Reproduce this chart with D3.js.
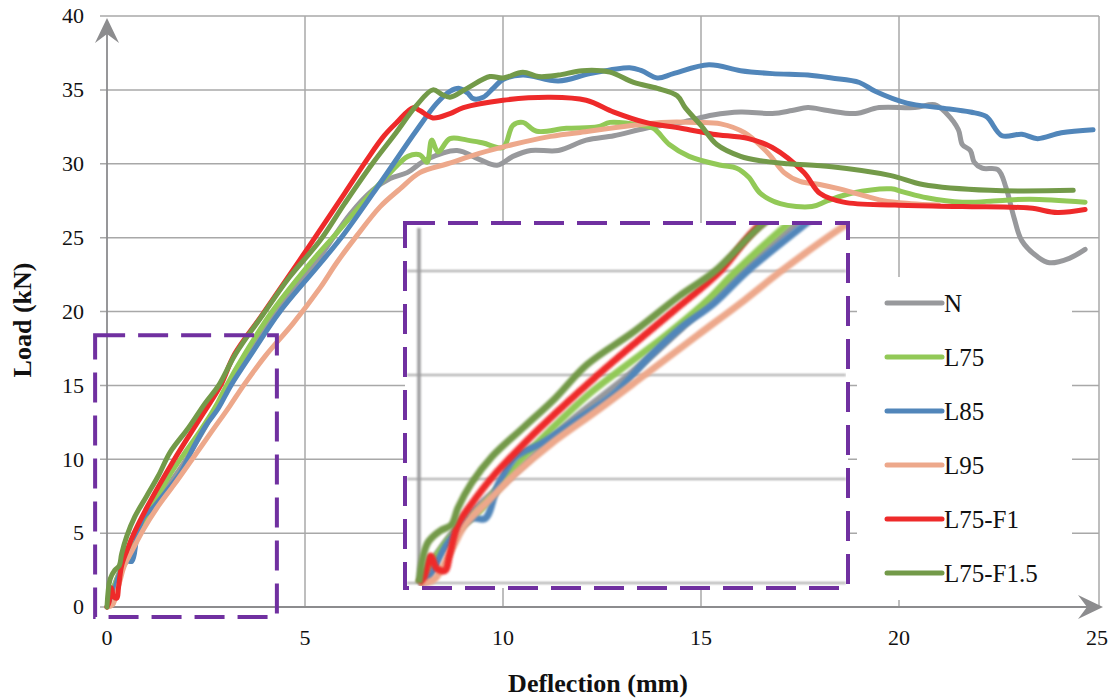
<!DOCTYPE html>
<html>
<head>
<meta charset="utf-8">
<script src="https://cdn.jsdelivr.net/npm/d3@7/dist/d3.min.js"></script>
<style>
  body { margin: 0; background: #fff; }
  svg { font-family: "Liberation Serif", "Times New Roman", serif; }
  text { fill: #111; }
  .tick { font-size: 22px; }
  .title { font-size: 26px; font-weight: bold; }
  .legText { font-size: 25px; }
</style>
</head>
<body>
<div id="main-svg"></div>
<script>
// load–deflection curves, values (mm, kN)
var seriesNames = ["N", "L75", "L85", "L95", "L75-F1", "L75-F1.5"];

var N_pts = [[0,0],[0.15,1.2],[0.4,2.9],[0.85,5.0],[1.4,7.6],[2.0,10.0],[2.55,12.5],[3.07,15.0],[3.6,17.3],
  [4.27,20.0],[5.35,23.6],[6.14,26.6],[6.7,28.2],[7.15,29.0],[7.58,29.4],[8.08,30.3],[8.84,30.9],[9.4,30.3],[9.85,29.9],
  [10.25,30.5],[10.7,30.9],[11.4,30.9],[12.1,31.6],[12.8,31.9],[13.6,32.4],[14.5,32.8],[15.3,33.3],[16.0,33.5],
  [16.8,33.4],[17.3,33.6],[17.7,33.8],[18.2,33.6],[18.9,33.4],[19.5,33.8],[20.4,33.8],[20.9,34.0],[21.2,33.4],
  [21.5,32.3],[21.6,31.3],[21.8,30.9],[21.9,30.1],[22.1,29.7],[22.5,29.6],[22.7,28.4],[22.9,26.4],[23.1,24.8],
  [23.5,23.7],[23.8,23.3],[24.3,23.6],[24.7,24.2]];

var L75_pts = [[0,0],[0.1,0.8],[0.3,2.2],[0.6,3.6],[0.93,5.7],[1.26,7.4],[1.6,9.0],[1.93,10.3],[2.35,11.9],
  [2.75,13.6],[3.0,14.9],[3.52,17.3],[4.17,20.0],[5.3,23.8],[5.7,25.0],[6.8,28.4],[7.15,29.4],[7.6,30.5],
  [7.9,30.6],[8.08,30.1],[8.2,31.6],[8.36,30.8],[8.66,31.7],[9.1,31.6],[9.5,31.4],[10.0,31.1],[10.25,32.6],
  [10.5,32.8],[10.85,32.2],[11.6,32.4],[12.4,32.5],[12.7,32.8],[13.5,32.6],[13.8,32.4],[14.2,31.3],[14.7,30.5],
  [15.5,29.9],[15.9,29.7],[16.2,29.1],[16.5,28.0],[17.0,27.3],[17.8,27.1],[18.2,27.5],[18.8,28.0],[19.8,28.3],
  [20.1,28.1],[20.7,27.7],[21.6,27.4],[22.5,27.5],[23.3,27.6],[24.7,27.4]];

var L85_pts = [[0,0],[0.08,0.15],[0.27,1.9],[0.5,3.1],[0.63,3.1],[0.76,4.8],[0.93,6.1],[1.16,6.7],[1.46,7.7],
  [1.86,9.1],[2.2,10.9],[2.5,12.3],[2.8,13.4],[3.13,15.0],[3.69,17.3],[4.37,20.0],[5.4,23.3],[6.0,25.3],
  [6.9,28.7],[7.8,32.2],[8.33,34.1],[8.66,34.9],[8.9,35.1],[9.1,34.8],[9.25,34.4],[9.5,34.5],[9.75,35.1],
  [10.0,35.7],[10.5,36.0],[11.4,35.6],[12.2,36.1],[13.2,36.5],[13.5,36.3],[13.9,35.8],[14.3,36.1],[15.2,36.7],
  [16.0,36.3],[16.8,36.1],[17.7,36.0],[18.3,35.8],[19.0,35.5],[19.4,34.9],[20.2,34.1],[21.0,33.8],[21.8,33.5],
  [22.2,33.2],[22.6,31.9],[23.1,32.0],[23.5,31.7],[24.1,32.1],[24.9,32.3]];

var L95_pts = [[0,0],[0.14,0.15],[0.31,1.6],[0.44,2.8],[0.67,4.0],[0.93,5.3],[1.26,6.7],[1.7,8.3],[2.15,10.0],
  [2.65,11.9],[3.1,13.6],[3.45,15.0],[4.0,17.0],[4.7,19.2],[5.38,21.6],[5.8,23.3],[6.3,25.1],[6.9,27.1],
  [7.4,28.3],[7.9,29.4],[8.6,30.0],[9.4,30.7],[10.25,31.3],[11.1,31.8],[11.9,32.1],[13.0,32.5],[14.0,32.8],
  [14.9,32.8],[15.5,32.7],[16.1,32.1],[16.7,30.7],[17.1,29.4],[17.5,28.8],[18.0,28.6],[18.5,28.3],[18.9,28.0],
  [19.6,27.5],[20.3,27.3],[21.0,27.2]];

var L75F1_pts = [[0,0],[0.05,0.3],[0.11,1.3],[0.17,0.7],[0.25,0.6],[0.29,1.3],[0.37,2.8],[0.5,3.8],[0.7,5.1],
  [1.0,6.7],[1.33,8.3],[1.68,9.9],[2.05,11.5],[2.43,13.1],[2.87,15.0],[3.22,17.1],[3.9,19.7],[4.87,23.5],
  [5.25,25.0],[6.0,28.0],[6.57,30.3],[7.0,31.9],[7.32,32.8],[7.73,33.8],[7.9,33.6],[8.23,33.1],[8.66,33.4],
  [9.0,33.8],[10.0,34.3],[11.2,34.5],[12.1,34.3],[12.8,33.5],[13.6,32.8],[14.5,32.4],[15.3,32.0],[16.2,31.7],
  [16.8,31.1],[17.6,29.4],[18.0,28.0],[18.6,27.4],[19.9,27.2],[21.6,27.1],[23.3,27.0],[24.0,26.7],[24.7,26.9]];

var L75F15_pts = [[0,0],[0.08,1.9],[0.2,2.5],[0.31,2.8],[0.37,3.6],[0.5,4.8],[0.7,6.1],[1.0,7.5],[1.3,8.9],
  [1.6,10.5],[2.05,12.1],[2.48,13.8],[2.82,15.0],[3.24,17.1],[3.94,19.8],[4.6,22.3],[5.38,24.8],[6.0,27.3],
  [6.7,30.0],[7.3,32.1],[7.8,33.9],[8.23,35.0],[8.45,34.7],[8.66,34.5],[9.09,35.1],[9.67,35.9],[10.0,35.8],
  [10.5,36.2],[10.9,35.9],[11.4,36.0],[12.0,36.3],[12.7,36.2],[13.3,35.5],[13.9,35.1],[14.4,34.6],[14.6,33.8],
  [15.0,32.6],[15.4,31.3],[16.0,30.5],[16.5,30.2],[17.2,30.0],[18.3,29.8],[19.8,29.2],[20.6,28.6],[22.3,28.2],
  [24.4,28.2]];

var xTicks = [0, 5, 10, 15, 20, 25];
var yTicks = [0, 5, 10, 15, 20, 25, 30, 35, 40];
var insetTicks = [0, 5, 10, 15];
// region of the chart that the inset magnifies
var zoomX = [-0.3, 4.29];
var zoomY = [-0.68, 18.4];

var seriesData = [N_pts, L75_pts, L85_pts, L95_pts, L75F1_pts, L75F15_pts];

var width = 1114, height = 698;
var gridCol = "#a8a8a8", axisCol = "#8c8c8e", boxCol = "#7030a0";

var colScale = d3.scaleOrdinal()
  .domain(seriesNames)
  .range(["#98999c", "#92c957", "#5186ba", "#eda88b", "#ee2a2a", "#739a49"]);

var svg = d3.select("#main-svg").append("svg")
  .attr("width", width)
  .attr("height", height);

let x = d3.scaleLinear().domain([0, 25]).range([107, 1097]);
let y = d3.scaleLinear().domain([0, 40]).range([607, 16]);

// grid
svg.append("g").selectAll("line")
  .data(yTicks).enter().append("line")
  .attr("x1", x(0) - 7).attr("x2", x(25) + 2)
  .attr("y1", d => y(d)).attr("y2", d => y(d))
  .style("stroke", gridCol).style("stroke-width", 1.5);

svg.append("g").selectAll("line")
  .data(xTicks.slice(1)).enter().append("line")
  .attr("x1", d => x(d) + (d == 25 ? 2 : 0)).attr("x2", d => x(d) + (d == 25 ? 2 : 0))
  .attr("y1", y(40)).attr("y2", y(0))
  .style("stroke", gridCol).style("stroke-width", 1.5);

// axes with arrows
svg.append("line")
  .attr("x1", x(0)).attr("x2", x(0)).attr("y1", y(0)).attr("y2", y(40) + 10)
  .style("stroke", axisCol).style("stroke-width", 1.8);
svg.append("line")
  .attr("x1", x(0)).attr("x2", x(25) - 2).attr("y1", y(0)).attr("y2", y(0))
  .style("stroke", axisCol).style("stroke-width", 1.8);

let ax = x(0), ay = y(40) + 2;
svg.append("path")
  .attr("d", `M${ax},${ay} L${ax + 12},${ay + 25} L${ax},${ay + 16} L${ax - 12},${ay + 25} Z`)
  .style("fill", axisCol);
let bx = x(25) + 6, by = y(0);
svg.append("path")
  .attr("d", `M${bx},${by} L${bx - 25},${by - 12} L${bx - 16},${by} L${bx - 25},${by + 12} Z`)
  .style("fill", axisCol);

// tick labels
svg.append("g").selectAll("text")
  .data(yTicks).enter().append("text")
  .attr("class", "tick")
  .attr("x", 84).attr("y", d => y(d)).attr("dy", "0.33em")
  .style("text-anchor", "end")
  .text(d => d);

svg.append("g").selectAll("text")
  .data(xTicks).enter().append("text")
  .attr("class", "tick")
  .attr("x", d => x(d)).attr("y", 645)
  .style("text-anchor", "middle")
  .text(d => d);

svg.append("text")
  .attr("class", "title")
  .attr("transform", "translate(31,320) rotate(-90)")
  .style("text-anchor", "middle")
  .text("Load (kN)");

svg.append("text")
  .attr("class", "title")
  .attr("x", 598).attr("y", 692)
  .style("text-anchor", "middle")
  .text("Deflection (mm)");

// curves
let line = d3.line()
  .curve(d3.curveCatmullRom.alpha(0.5))
  .x(d => x(d[0]))
  .y(d => y(d[1]));

svg.append("g").selectAll("path")
  .data(seriesData).enter().append("path")
  .attr("d", line)
  .style("fill", "none")
  .style("stroke", (d, i) => colScale(seriesNames[i]))
  .style("stroke-width", 5)
  .style("stroke-linejoin", "round")
  .style("stroke-linecap", "round");

// small dashed box around the zoomed part
svg.append("rect")
  .attr("x", x(zoomX[0])).attr("y", y(zoomY[1]))
  .attr("width", x(zoomX[1]) - x(zoomX[0]))
  .attr("height", y(zoomY[0]) - y(zoomY[1]))
  .style("fill", "none").style("stroke", boxCol)
  .style("stroke-width", 4).style("stroke-dasharray", "30 13");

// inset
const inset = {left: 405, right: 848, top: 223, bottom: 588};
let xi = d3.scaleLinear().domain([-0.133, 4.086]).range([inset.left, inset.right]);
let yi = d3.scaleLinear().domain([-0.24, 17.31]).range([inset.bottom, inset.top]);

let defs = svg.append("defs");
defs.append("clipPath").attr("id", "insetClip")
  .append("rect")
  .attr("x", inset.left + 2).attr("y", inset.top + 2)
  .attr("width", inset.right - inset.left - 4)
  .attr("height", inset.bottom - inset.top - 4);
defs.append("filter").attr("id", "soft")
  .attr("filterUnits", "userSpaceOnUse")
  .attr("x", 0).attr("y", 0).attr("width", width).attr("height", height)
  .append("feGaussianBlur").attr("stdDeviation", 0.9);

svg.append("rect")
  .attr("x", inset.left).attr("y", inset.top)
  .attr("width", inset.right - inset.left).attr("height", inset.bottom - inset.top)
  .style("fill", "#fff");

let ig = svg.append("g").attr("clip-path", "url(#insetClip)");

ig.selectAll("line.igrid")
  .data(insetTicks).enter().append("line")
  .attr("class", "igrid")
  .attr("x1", inset.left + 2).attr("x2", inset.right - 2)
  .attr("y1", d => yi(d)).attr("y2", d => yi(d))
  .style("stroke", gridCol).style("stroke-width", 2)
  .attr("filter", "url(#soft)");

ig.append("line")
  .attr("x1", xi(0)).attr("x2", xi(0))
  .attr("y1", inset.top + 5).attr("y2", yi(0))
  .style("stroke", "#9a9a9c").style("stroke-width", 3.5)
  .attr("filter", "url(#soft)");

let lineI = d3.line()
  .curve(d3.curveCatmullRom.alpha(0.5))
  .x(d => xi(d[0]))
  .y(d => yi(d[1]));

ig.append("g").selectAll("path")
  .data(seriesData.map(s => s.filter(d => d[0] < 5.5))).enter().append("path")
  .attr("d", lineI)
  .style("fill", "none")
  .style("stroke", (d, i) => colScale(seriesNames[i]))
  .style("stroke-width", 7)
  .style("stroke-linejoin", "round")
  .attr("filter", "url(#soft)");

svg.append("rect")
  .attr("x", inset.left).attr("y", inset.top)
  .attr("width", inset.right - inset.left).attr("height", inset.bottom - inset.top)
  .style("fill", "none").style("stroke", boxCol)
  .style("stroke-width", 4).style("stroke-dasharray", "30 13");

// legend
svg.append("rect")
  .attr("x", 857).attr("y", 277).attr("width", 215).attr("height", 323)
  .style("fill", "#fff");

let legend = svg.append("g").selectAll("g")
  .data(seriesNames).enter().append("g")
  .attr("transform", (d, i) => `translate(887, ${303 + i * 54})`);

legend.append("line")
  .attr("x1", 0).attr("x2", 55)
  .style("stroke", d => colScale(d))
  .style("stroke-width", 5)
  .style("stroke-linecap", "round");

legend.append("text")
  .attr("class", "legText")
  .attr("x", 57).attr("dy", "0.35em")
  .text(d => d);
</script>
</body>
</html>
